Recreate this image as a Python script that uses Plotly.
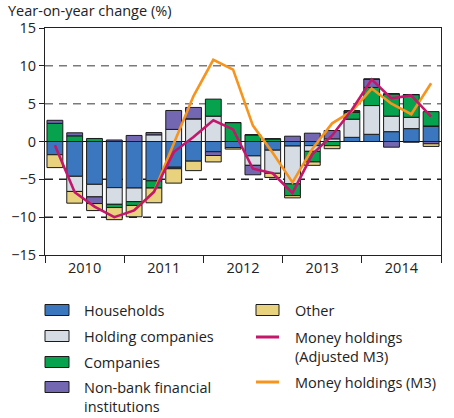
import plotly.graph_objects as go

# ---------------- data (quarterly, 2010 Q1 - 2014 Q4) ----------------
years = ["2010", "2011", "2012", "2013", "2014"]
quarters = list(range(20))

households = [-1.75, -4.6, -5.66, -6.1, -6.15, -5.2, -3.4, -2.6, -1.35, -0.8,
              -1.9, -1.15, -0.6, -0.55, 0.0, 0.55, 0.95, 1.3, 1.7, 2.05]
holding_companies = [0.0, -2.0, -1.66, -2.2, -1.8, 0.88, 1.6, 3.0, 3.35, 0.0,
                     -1.25, -3.05, -5.0, -0.75, 0.35, 2.4, 3.8, 2.05, 1.5, 0.0]
companies = [2.4, 0.75, 0.4, -0.43, -0.5, -0.95, -0.2, 0.0, 2.25, 2.5,
             0.88, 0.35, -1.55, -1.4, -0.55, 0.9, 2.4, 2.95, 3.0, 1.9]
nonbank_fin = [0.4, 0.4, -0.88, 0.2, 0.8, 0.3, 2.5, 1.5, -0.5, 0.0,
               -1.25, 0.0, 0.7, 1.1, 1.1, 0.2, 1.1, -0.75, -0.1, -0.3]
other = [-1.7, -1.55, -0.93, -1.6, -1.5, -1.95, -1.9, -1.25, -0.85, -0.2,
         0.0, -0.55, -0.3, -0.45, -0.4, 0.0, 0.0, 0.0, 0.0, -0.35]
adjusted_m3 = [-0.5, -6.7, -8.6, -10.0, -9.1, -6.67, -1.4, 0.6, 2.8, 1.6,
               -3.6, -4.2, -6.8, -1.7, 0.8, 4.2, 8.2, 5.7, 6.1, 3.3]
m3 = [None, None, None, None, -9.1, -6.67, -0.3, 6.0, 10.8, 9.5,
      2.1, -1.5, -5.4, -1.0, 2.4, 4.0, 7.0, 5.0, 3.6, 7.7]

bar_names = ["Households", "Holding companies", "Companies",
             "Non-bank financial<br>institutions", "Other"]
bar_values = [households, holding_companies, companies, nonbank_fin, other]
bar_colors = ["#3b77be", "#d5dce4", "#07a24e", "#7467b2", "#e8d27e"]
line_names = ["Money holdings<br>(Adjusted M3)", "Money holdings (M3)"]
line_colors = ["#c4176b", "#f7941d"]

FONT = "Open Sans"
FS = 14.5
W, H = 454, 418
L, R, T, B = 45, 441, 28, 255  # plot area in px


def px_x(p):
    return (p - L) / (R - L)


def px_y(p):
    return (B - p) / (B - T)


fig = go.Figure()

for name, vals, col in zip(bar_names, bar_values, bar_colors):
    fig.add_trace(go.Bar(x=quarters, y=vals, name=name, width=0.8,
                         marker=dict(color=col, line=dict(color="#1a1a1a", width=1)),
                         showlegend=False))

fig.add_trace(go.Scatter(x=quarters, y=m3, mode="lines", name=line_names[1],
                         line=dict(color=line_colors[1], width=2.6), showlegend=False))
fig.add_trace(go.Scatter(x=quarters, y=adjusted_m3, mode="lines", name=line_names[0],
                         line=dict(color=line_colors[0], width=2.6), showlegend=False))

shapes = []
for v, c in [(10, "#7a7a7a"), (5, "#7a7a7a"), (-5, "#222222"), (-10, "#222222")]:
    shapes.append(dict(type="line", xref="paper", x0=0, x1=1, yref="y", y0=v, y1=v,
                       line=dict(color=c, width=1.5, dash="8px,6px"), layer="below"))
shapes.append(dict(type="line", xref="paper", x0=0, x1=1, yref="y", y0=0, y1=0,
                   line=dict(color="#111111", width=1.2), layer="below"))

annotations = [dict(text="Year-on-year change (%)", xref="paper", yref="paper",
                    x=px_x(7), y=px_y(10), xanchor="left", yanchor="middle",
                    showarrow=False, borderpad=0,
                    font=dict(family=FONT, size=14.5, color="#222"))]

# manual legend: left column (bars 0-3), right column (Other + lines)
left_rows = [310, 336, 362, 387]
for i, yy in enumerate(left_rows):
    shapes.append(dict(type="rect", xref="paper", yref="paper",
                       x0=px_x(45), x1=px_x(69), y0=px_y(yy - 5.5), y1=px_y(yy + 5.5),
                       fillcolor=bar_colors[i], line=dict(color="#1a1a1a", width=1)))
    annotations.append(dict(text=bar_names[i], xref="paper", yref="paper",
                            x=px_x(83), y=px_y(yy - 10), xanchor="left", yanchor="top",
                            align="left", showarrow=False, borderpad=0,
                            font=dict(family=FONT, size=FS, color="#222")))

shapes.append(dict(type="rect", xref="paper", yref="paper",
                   x0=px_x(256), x1=px_x(279), y0=px_y(310 - 5.5), y1=px_y(310 + 5.5),
                   fillcolor=bar_colors[4], line=dict(color="#1a1a1a", width=1)))
annotations.append(dict(text=bar_names[4], xref="paper", yref="paper",
                        x=px_x(294), y=px_y(310 - 10), xanchor="left", yanchor="top",
                        align="left", showarrow=False, borderpad=0,
                        font=dict(family=FONT, size=FS, color="#222")))
for name, col, yy in zip(line_names, line_colors, [337, 382]):
    shapes.append(dict(type="line", xref="paper", yref="paper",
                       x0=px_x(256), x1=px_x(279), y0=px_y(yy), y1=px_y(yy),
                       line=dict(color=col, width=3)))
    annotations.append(dict(text=name, xref="paper", yref="paper",
                            x=px_x(294), y=px_y(yy - 10), xanchor="left", yanchor="top",
                            align="left", showarrow=False, borderpad=0,
                            font=dict(family=FONT, size=FS, color="#222")))

fig.update_layout(
    width=W, height=H,
    margin=dict(l=L, r=W - R, t=T, b=H - B, pad=0),
    barmode="relative", bargap=0.2,
    paper_bgcolor="white", plot_bgcolor="white",
    font=dict(family=FONT, size=FS, color="#222"),
    shapes=shapes, annotations=annotations,
    xaxis=dict(range=[-0.5, 19.5], tickvals=[1.5, 5.5, 9.5, 13.5, 17.5], ticktext=years,
               ticks="", showgrid=False, zeroline=False,
               showline=True, mirror=True, linecolor="#222", linewidth=1,
               minor=dict(ticks="outside", ticklen=7, tick0=-0.5, dtick=4,
                          tickcolor="#222", showgrid=False),
               tickfont=dict(family=FONT, size=FS, color="#222")),
    yaxis=dict(range=[-15, 15], tickvals=[-15, -10, -5, 0, 5, 10, 15],
               ticks="outside", ticklen=5, tickcolor="#222", showgrid=False, zeroline=False,
               showline=True, mirror=True, linecolor="#222", linewidth=1,
               tickfont=dict(family=FONT, size=FS, color="#222")),
)

fig.write_html("out.html", config={"displayModeBar": False},
               post_script="document.body.style.margin='0';document.body.style.padding='0';")
